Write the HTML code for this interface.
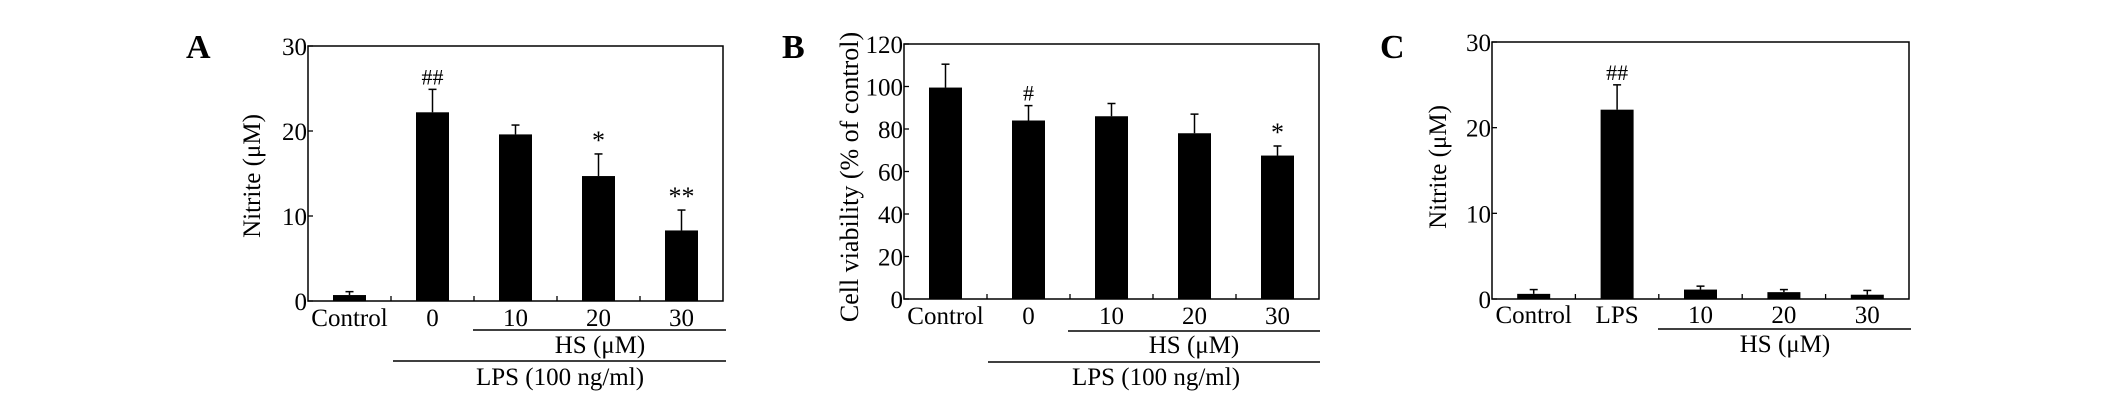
<!DOCTYPE html>
<html><head><meta charset="utf-8"><style>
body{margin:0;background:#fff}
svg{display:block;font-family:"Liberation Serif",serif}
</style></head><body>
<svg id="fig" width="2126" height="419" viewBox="0 0 2126 419" xmlns="http://www.w3.org/2000/svg"></svg>
<script>
const catsA=["Control","0","10","20","30"];
const valsA=[0.7,22.2,19.6,14.7,8.3];
const errA=[0.4,2.7,1.1,2.6,2.4];
const sigA=["","##","","*","**"];
const ticksA=[0,10,20,30];

const catsB=["Control","0","10","20","30"];
const valsB=[99.5,84,86,78,67.5];
const errB=[11,7,6,9,4.5];
const sigB=["","#","","","*"];
const ticksB=[0,20,40,60,80,100,120];

const catsC=["Control","LPS","10","20","30"];
const valsC=[0.6,22.1,1.1,0.8,0.5];
const errC=[0.5,2.9,0.4,0.3,0.5];
const sigC=["","##","","",""];
const ticksC=[0,10,20,30];

const NS="http://www.w3.org/2000/svg";
const svg=document.getElementById('fig');
function mk(tag,attrs,parent,text){const e=document.createElementNS(NS,tag);for(const k in attrs)e.setAttribute(k,attrs[k]);if(text!==undefined)e.textContent=text;(parent||svg).appendChild(e);return e;}

function panel(o){
  const g=mk('g',{});
  
  
  const L=o.x0,R=o.x1,T=o.y0,B=o.y1,max=o.ticks[o.ticks.length-1];
  const y=v=>B-(v/max)*(B-T);
  const step=(R-L)/o.cats.length;
  const xc=i=>L+step*(i+0.5);
  const fr=mk('rect',{x:L,y:T,width:R-L,height:B-T,fill:'none',stroke:'#000','stroke-width':1.5},g);
  
  
  o.ticks.forEach(t=>{
    const tl=mk('line',{x1:L,x2:L+5,y1:y(t),y2:y(t),stroke:'#000','stroke-width':1.3},g);
    
    
    const tx=mk('text',{x:L-1,y:y(t)+9,'text-anchor':'end','font-size':25},g,String(t));
    
    
  });
  for(let i=1;i<o.cats.length;i++){
    const xt=L+step*i;
    const tk=mk('line',{x1:xt,x2:xt,y1:B,y2:B-5,stroke:'#000','stroke-width':1.3},g);
    
    
  }
  o.cats.forEach((c,i)=>{
    const v=o.vals[i],e=o.err[i],bw=33;
    const eb=mk('line',{x1:xc(i),x2:xc(i),y1:y(v),y2:y(v+e),stroke:'#000','stroke-width':1.5},g);
    
    
    const cap=mk('line',{x1:xc(i)-4,x2:xc(i)+4,y1:y(v+e),y2:y(v+e),stroke:'#000','stroke-width':1.5},g);
    
    
    const r=mk('rect',{x:xc(i)-bw/2,y:y(v),width:bw,height:B-y(v),fill:'#000'},g);
    
    
    if(o.sig[i]){
      const s=mk('text',{x:xc(i),y:y(v+e)-5,'text-anchor':'middle','font-size':o.sig[i].includes('#')?22:26},g,o.sig[i]);
      
      
    }
    const xl=mk('text',{x:xc(i),y:o.lab,'text-anchor':'middle','font-size':25},g,c);
    
    
  });
  const yt=mk('text',{transform:`translate(${o.ytx},${o.yty}) rotate(-90)`,'text-anchor':'middle','font-size':o.ytfs},g,o.ytitle);
  
  
  const pl=mk('text',{x:o.px,y:58,'font-size':34,'font-weight':'bold'},g,o.letter);
  
  
  o.groups.forEach(gr=>{
    const ln=mk('line',{x1:gr.a,x2:gr.b,y1:gr.y,y2:gr.y,stroke:'#000','stroke-width':1.5},g);
    
    
    const gt=mk('text',{x:gr.tx,y:gr.ty,'text-anchor':'middle','font-size':25},g,gr.t);
    
    
  });
}

panel({name:'panel-a',letter:'A',px:186,x0:308,x1:723,y0:46,y1:301,cats:catsA,vals:valsA,err:errA,sig:sigA,ticks:ticksA,lab:326,
  ytitle:'Nitrite (\u03bcM)',ytx:260,yty:176,ytfs:25,
  groups:[{a:473,b:726,y:330,t:'HS (\u03bcM)',tx:600,ty:353},{a:393,b:726,y:361,t:'LPS (100 ng/ml)',tx:560,ty:385}]});
panel({name:'panel-b',letter:'B',px:782,x0:904,x1:1319,y0:44,y1:299,cats:catsB,vals:valsB,err:errB,sig:sigB,ticks:ticksB,lab:324,
  ytitle:'Cell viability (% of control)',ytx:858,yty:177,ytfs:26,
  groups:[{a:1068,b:1320,y:331,t:'HS (\u03bcM)',tx:1194,ty:353},{a:988,b:1320,y:362,t:'LPS (100 ng/ml)',tx:1156,ty:385}]});
panel({name:'panel-c',letter:'C',px:1380,x0:1492,x1:1909,y0:42,y1:299,cats:catsC,vals:valsC,err:errC,sig:sigC,ticks:ticksC,lab:323,
  ytitle:'Nitrite (\u03bcM)',ytx:1446,yty:167,ytfs:25,
  groups:[{a:1658,b:1911,y:329,t:'HS (\u03bcM)',tx:1785,ty:352}]});
</script>
</body></html>
